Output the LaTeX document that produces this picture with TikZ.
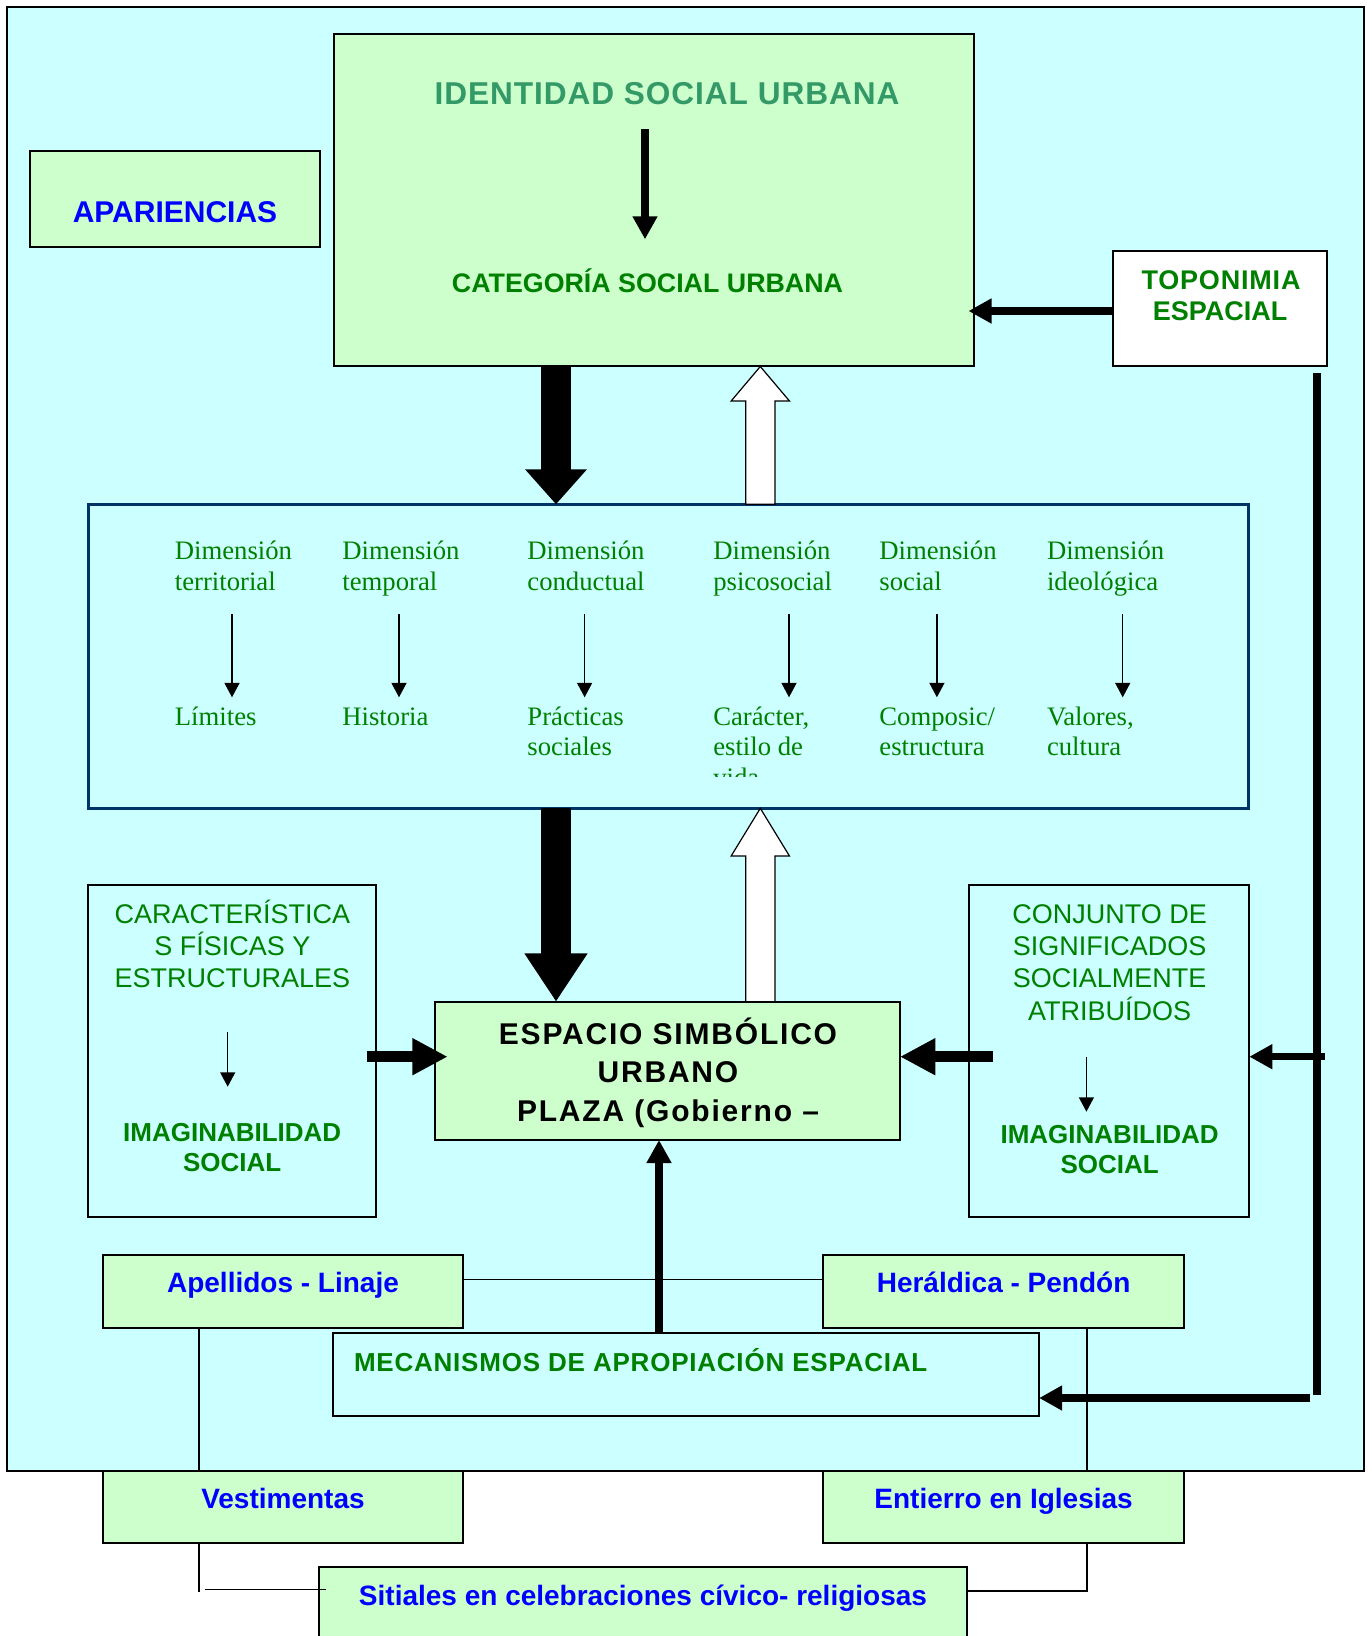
\documentclass[tikz,border=0pt]{standalone}
\usepackage{fontspec}
\setmainfont{Liberation Sans}
\newfontfamily\dimfont{Liberation Serif}
\newfontfamily\spacedA{Liberation Sans}[LetterSpace=3]
\newfontfamily\spacedB{Liberation Sans}[LetterSpace=6]
\usetikzlibrary{arrows.meta,fit,calc}
\definecolor{bgcyan}{HTML}{CCFFFF}
\definecolor{boxgreen}{HTML}{CCFFCC}
\definecolor{tgreen}{HTML}{008000}
\definecolor{tsea}{HTML}{339966}
\definecolor{tblue}{HTML}{0000FF}
\definecolor{dimblue}{HTML}{003366}
\newcommand\myfs[1]{\fontsize{#1}{#1}\selectfont}
\tikzset{
  box/.style={draw=black, line width=1pt, inner sep=0pt, outer sep=0pt},
  gbox/.style={box, fill=boxgreen},
  cbox/.style={box, fill=bgcyan},
  wbox/.style={box, fill=white},
  lbl/.style={anchor=base, inner sep=0pt},
  lbll/.style={anchor=base west, inner sep=0pt},
  thinarrow/.style={line width=0.7pt, -{Triangle[length=7.2pt,width=7.5pt]}},
  medarrow/.style={line width=3.6pt, -{Triangle[length=11.5pt,width=11.8pt]}},
  wedgearrow/.style={line width=5.65pt, -{Triangle[length=17.7pt,width=17.35pt]}},
  bigblackA/.style={line width=15.15pt, -{Triangle[length=17.5pt,width=29.85pt]}},
  bigblackB/.style={line width=15.15pt, -{Triangle[length=24.15pt,width=29.85pt]}},
  whitearrow/.style={draw=black, fill=white, line width=0.6pt},
  thinline/.style={line width=0.75pt},
  thickline/.style={line width=3.8pt},
  serifgreen/.style={lbll, font=\dimfont\myfs{13.35pt}, text=tgreen},
  capsreg/.style={lbl, font=\myfs{13.5pt}, text=tgreen},
  capsbold/.style={lbl, font=\bfseries\myfs{13pt}, text=tgreen},
  bluetxt/.style={lbl, font=\bfseries\myfs{14pt}, text=tblue},
}
\begin{document}
\begin{tikzpicture}[x=0.5pt, y=-0.5pt]
\useasboundingbox (0,0) rectangle (1371,1636);
\fill[white] (0,0) rectangle (1371,1636);

% ---------- boxes ----------
\node[cbox, fit={(6.7,6.7) (1363.5,1471)}] (outer) {};
\node[gbox, fit={(334.4,34.3) (974.3,366.5)}] (ident) {};
\node[gbox, fit={(30.4,150.7) (319.6,247.3)}] (apar) {};
\node[wbox, fit={(1113.1,250.7) (1326.8,366)}] (topo) {};
\node[box, fill=bgcyan, draw=dimblue, line width=1.4pt, fit={(88.3,504.3) (1248.5,808.3)}] (dim) {};
\node[cbox, fit={(88.4,885) (376.3,1217.3)}] (carac) {};
\node[gbox, fit={(434.7,1001.7) (900,1140)}] (espacio) {};
\node[cbox, fit={(969.4,885) (1249.3,1217.3)}] (conj) {};
\node[gbox, fit={(102.7,1255) (463.4,1327.7)}] (apel) {};
\node[gbox, fit={(822.7,1255) (1183.6,1327.7)}] (herald) {};
\node[cbox, fit={(332.6,1333.3) (1039.1,1416)}] (mec) {};
\node[gbox, fit={(102.7,1471) (463.4,1543.3)}] (vest) {};
\node[gbox, fit={(822.7,1471) (1183.6,1543.3)}] (entierro) {};
\node[gbox, fit={(318.75,1567.3) (967.3,1660)}] (sitiales) {};

% ---------- coordinates ----------
\coordinate (bx) at (556,0);
\coordinate (wx) at (760.3,0);
\coordinate (vx) at (659,0);
\coordinate (lx) at (199.1,0);
\coordinate (rx) at (1087.1,0);
\coordinate (ty) at (0,311);
\coordinate (cy) at (0,1056.7);
\coordinate (hy) at (0,1398);
\coordinate (ly) at (0,1279.3);

% ---------- thin connector lines ----------
\draw[thinline] (apel.east |- ly) -- (herald.west |- ly);
\draw[thinline] (apel.south -| lx) -- (vest.north -| lx);
\draw[thinline] (herald.south -| rx) -- (entierro.north -| rx);
\coordinate (vl1) at (199.1,1591.7);
\draw[thinline] (vest.south -| lx) -- (vl1);
\coordinate (vl2) at (204.5,1589.3);
\coordinate (vl3) at (325.9,1589.3);
\draw[thinline] (vl2) -- (vl3);
\coordinate (el1) at (1087.1,1591);
\draw[thinline] (entierro.south -| rx) -- (el1) -- (sitiales.east |- el1);

% ---------- big arrows ----------
\draw[bigblackA] (ident.south -| bx) -- (dim.north -| bx);
\draw[bigblackB] (dim.south -| bx) -- (espacio.north -| bx);
\draw[whitearrow] ($(dim.north -| wx)+(-14.65,0)$) -- ($(ident.south -| wx)+(-14.65,34.5)$)
  -- ($(ident.south -| wx)+(-29.15,34.5)$) -- (ident.south -| wx)
  -- ($(ident.south -| wx)+(29.15,34.5)$) -- ($(ident.south -| wx)+(14.65,34.5)$)
  -- ($(dim.north -| wx)+(14.65,0)$) -- cycle;
\draw[whitearrow] ($(espacio.north -| wx)+(-14.65,0)$) -- ($(dim.south -| wx)+(-14.65,47.7)$)
  -- ($(dim.south -| wx)+(-29.15,47.7)$) -- (dim.south -| wx)
  -- ($(dim.south -| wx)+(29.15,47.7)$) -- ($(dim.south -| wx)+(14.65,47.7)$)
  -- ($(espacio.north -| wx)+(14.65,0)$) -- cycle;

% ---------- medium arrows ----------
\coordinate (ia1) at (645,129.3);
\coordinate (ia2) at (645,239.3);
\draw[medarrow] (ia1) -- (ia2);
\draw[medarrow] (topo.west |- ty) -- ($(ident.east |- ty)+(-5.8,0)$);
\coordinate (rv1) at (1317.2,373.3);
\coordinate (rv2) at (1317.2,1395);
\draw[thickline] (rv1) -- (rv2);
\coordinate (ca) at (1324.6,1056.7);
\draw[medarrow] (ca) -- (conj.east |- cy);
\coordinate (ha) at (1310.1,1398);
\draw[medarrow] (ha) -- (mec.east |- hy);
\draw[medarrow] (mec.north -| vx) -- (espacio.south -| vx);
\draw[wedgearrow] ($(carac.east |- cy)+(-9.3,0)$) -- ($(espacio.west |- cy)+(13,0)$);
\draw[wedgearrow] ($(conj.west |- cy)+(23.5,0)$) -- (espacio.east |- cy);

% ---------- small arrows ----------
\foreach \i/\ax in {1/232,2/399,3/584.6,4/789,5/936.9,6/1122.7}{
  \coordinate (da\i) at (\ax,614.3);
  \coordinate (db\i) at (\ax,697.3);
  \draw[thinarrow] (da\i) -- (db\i);
}
\coordinate (sa1) at (227.7,1031.7);
\coordinate (sa2) at (227.7,1086.7);
\draw[thinarrow] (sa1) -- (sa2);
\coordinate (sb1) at (1086.4,1056.7);
\coordinate (sb2) at (1086.4,1111.7);
\draw[thinarrow] (sb1) -- (sb2);

% ---------- texts ----------
\node[lbl, font=\spacedA\bfseries\myfs{15.8pt}, text=tsea] (tident) at (667,104.3) {IDENTIDAD SOCIAL URBANA};
\node[lbl, font=\bfseries\myfs{13.4pt}, text=tgreen] (tcat) at (647.5,292.7) {CATEGORÍA SOCIAL URBANA};
\node[lbl, font=\bfseries\myfs{15pt}, text=tblue] (tapar) at (175,222.7) {APARIENCIAS};
\node[lbl, font=\spacedA\bfseries\myfs{13.5pt}, text=tgreen] (ttopo1) at (1221,289.3) {TOPONIMIA};
\node[lbl, font=\bfseries\myfs{13.5pt}, text=tgreen] (ttopo2) at (1220,320.7) {ESPACIAL};

% dimension columns
\node[serifgreen] (d1a) at (174.5,559.3) {Dimensión};
\node[serifgreen] (d1b) at (174.5,590) {territorial};
\node[serifgreen] (r1a) at (174.5,725) {Límites};
\node[serifgreen] (d2a) at (342,559.3) {Dimensión};
\node[serifgreen] (d2b) at (342,590) {temporal};
\node[serifgreen] (r2a) at (342,725) {Historia};
\node[serifgreen] (d3a) at (527,559.3) {Dimensión};
\node[serifgreen] (d3b) at (527,590) {conductual};
\node[serifgreen] (r3a) at (527,725) {Prácticas};
\node[serifgreen] (r3b) at (527,755.7) {sociales};
\node[serifgreen] (d4a) at (712.9,559.3) {Dimensión};
\node[serifgreen] (d4b) at (712.9,590) {psicosocial};
\node[serifgreen] (r4a) at (712.9,725) {Carácter,};
\node[serifgreen] (r4b) at (712.9,755.7) {estilo de};
\begin{scope}
\clip (700,760) rectangle (900,776.7);
\node[serifgreen] (r4c) at (712.9,786.4) {vida};
\end{scope}
\node[serifgreen] (d5a) at (879,559.3) {Dimensión};
\node[serifgreen] (d5b) at (879,590) {social};
\node[serifgreen] (r5a) at (879,725) {Composic/};
\node[serifgreen] (r5b) at (879,755.7) {estructura};
\node[serifgreen] (d6a) at (1046.6,559.3) {Dimensión};
\node[serifgreen] (d6b) at (1046.6,590) {ideológica};
\node[serifgreen] (r6a) at (1046.6,725) {Valores,};
\node[serifgreen] (r6b) at (1046.6,755.7) {cultura};

% left middle box
\node[capsreg] (c1) at (232.4,923.3) {CARACTERÍSTICA};
\node[capsreg] (c2) at (232.4,955.7) {S FÍSICAS Y};
\node[capsreg] (c3) at (232.4,987.7) {ESTRUCTURALES};
\node[capsbold] (c4) at (232.2,1141.7) {IMAGINABILIDAD};
\node[capsbold] (c5) at (232.2,1171.7) {SOCIAL};

% right middle box
\node[capsreg] (s1) at (1109.6,923.3) {CONJUNTO DE};
\node[capsreg] (s2) at (1109.6,955.7) {SIGNIFICADOS};
\node[capsreg] (s3) at (1109.6,987.7) {SOCIALMENTE};
\node[capsreg] (s4) at (1109.6,1020) {ATRIBUÍDOS};
\node[capsbold] (s5) at (1109.6,1143.3) {IMAGINABILIDAD};
\node[capsbold] (s6) at (1109.6,1173.3) {SOCIAL};

% central box
\node[lbl, font=\spacedB\bfseries\myfs{15pt}] (e1) at (668,1044.3) {ESPACIO SIMBÓLICO};
\node[lbl, font=\spacedB\bfseries\myfs{15pt}] (e2) at (668,1082.3) {URBANO};
\node[lbl, font=\spacedB\bfseries\myfs{15pt}] (e3) at (668,1121.7) {PLAZA (Gobierno –};

% bottom
\node[bluetxt] (tapel) at (283,1292.7) {Apellidos - Linaje};
\node[bluetxt] (therald) at (1003.6,1292.7) {Heráldica - Pendón};
\node[lbll, font=\spacedA\bfseries\myfs{13pt}, text=tgreen] (tmec) at (353.6,1371) {MECANISMOS DE APROPIACIÓN ESPACIAL};
\node[bluetxt] (tvest) at (283,1508.3) {Vestimentas};
\node[bluetxt] (tent) at (1003.6,1508.3) {Entierro en Iglesias};
\node[bluetxt] (tsit) at (643,1605) {Sitiales en celebraciones cívico- religiosas};
\end{tikzpicture}
\end{document}
